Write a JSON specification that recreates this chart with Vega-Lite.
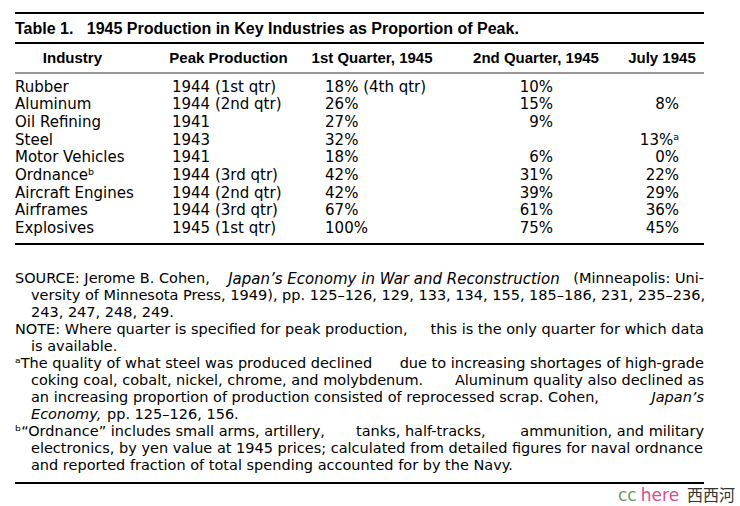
{
  "$schema": "https://vega.github.io/schema/vega-lite/v6.json",
  "background": "white",
  "padding": {"left": 14, "top": 12, "right": 0, "bottom": 0},
  "spacing": 0,
  "bounds": "flush",
  "config": {"view": {"stroke": null}},
  "datasets": {
    "title": [{"text": "Table 1.\u00a0\u00a0 1945 Production in Key Industries as Proportion of Peak."}],
    "columns": [
      {"col": "Industry"},
      {"col": "Peak Production"},
      {"col": "1st Quarter, 1945"},
      {"col": "2nd Quarter, 1945"},
      {"col": "July 1945"}
    ],
    "rows": [
      {"industry": "Rubber", "peak": "1944 (1st qtr)", "q1": "18% (4th qtr)", "q2": "10%", "july": ""},
      {"industry": "Aluminum", "peak": "1944 (2nd qtr)", "q1": "26%", "q2": "15%", "july": "8%"},
      {"industry": "Oil Refining", "peak": "1941", "q1": "27%", "q2": "9%", "july": ""},
      {"industry": "Steel", "peak": "1943", "q1": "32%", "q2": "", "july": "13%ᵃ"},
      {"industry": "Motor Vehicles", "peak": "1941", "q1": "18%", "q2": "6%", "july": "0%"},
      {"industry": "Ordnanceᵇ", "peak": "1944 (3rd qtr)", "q1": "42%", "q2": "31%", "july": "22%"},
      {"industry": "Aircraft Engines", "peak": "1944 (2nd qtr)", "q1": "42%", "q2": "39%", "july": "29%"},
      {"industry": "Airframes", "peak": "1944 (3rd qtr)", "q1": "67%", "q2": "61%", "july": "36%"},
      {"industry": "Explosives", "peak": "1945 (1st qtr)", "q1": "100%", "q2": "75%", "july": "45%"}
    ],
    "notes": [
      {"line": 1, "cont": false, "piece": "head", "book": false, "text": "SOURCE: Jerome B. Cohen,"},
      {"line": 1, "cont": false, "piece": "mid", "book": true, "text": "Japan’s Economy in War and Reconstruction"},
      {"line": 1, "cont": false, "piece": "tail", "book": false, "text": "(Minneapolis: Uni-"},
      {"line": 2, "cont": true, "piece": "head", "book": false, "text": "versity of Minnesota Press, 1949), pp. 125–126, 129, 133, 134, 155, 185–186, 231, 235–236,"},
      {"line": 3, "cont": true, "piece": "head", "book": false, "text": "243, 247, 248, 249."},
      {"line": 4, "cont": false, "piece": "head", "book": false, "text": "NOTE: Where quarter is specified for peak production,"},
      {"line": 4, "cont": false, "piece": "tail", "book": false, "text": "this is the only quarter for which data"},
      {"line": 5, "cont": true, "piece": "head", "book": false, "text": "is available."},
      {"line": 6, "cont": false, "piece": "head", "book": false, "text": "ᵃThe quality of what steel was produced declined"},
      {"line": 6, "cont": false, "piece": "tail", "book": false, "text": "due to increasing shortages of high-grade"},
      {"line": 7, "cont": true, "piece": "head", "book": false, "text": "coking coal, cobalt, nickel, chrome, and molybdenum."},
      {"line": 7, "cont": true, "piece": "tail", "book": false, "text": "Aluminum quality also declined as"},
      {"line": 8, "cont": true, "piece": "head", "book": false, "text": "an increasing proportion of production consisted of reprocessed scrap. Cohen,"},
      {"line": 8, "cont": true, "piece": "tail", "book": true, "text": "Japan’s"},
      {"line": 9, "cont": true, "piece": "head", "book": true, "text": "Economy,"},
      {"line": 9, "cont": true, "piece": "after", "book": false, "text": "pp. 125–126, 156."},
      {"line": 10, "cont": false, "piece": "head", "book": false, "text": "ᵇ“Ordnance” includes small arms, artillery,"},
      {"line": 10, "cont": false, "piece": "mid", "book": false, "text": "tanks, half-tracks,"},
      {"line": 10, "cont": false, "piece": "tail", "book": false, "text": "ammunition, and military"},
      {"line": 11, "cont": true, "piece": "head", "book": false, "text": "electronics, by yen value at 1945 prices; calculated from detailed figures for naval ordnance"},
      {"line": 12, "cont": true, "piece": "head", "book": false, "text": "and reported fraction of total spending accounted for by the Navy."}
    ],
    "mark": [{"piece": "cc"}, {"piece": "here"}, {"piece": "西西河"}]
  },
  "resolve": {"scale": {"x": "independent", "y": "independent"}},
  "vconcat": [
    {
      "width": 689,
      "height": 30,
      "data": {"name": "title"},
      "layer": [
        {
          "mark": {"type": "rule", "color": "#000", "strokeWidth": 2},
          "encoding": {"y": {"datum": "title", "type": "nominal", "bandPosition": 0, "scale": {"type": "band", "domain": ["title"], "paddingInner": 0, "paddingOuter": 0}, "axis": null}}
        },
        {
          "mark": {"type": "rule", "color": "#000", "strokeWidth": 2},
          "encoding": {"y": {"datum": "title", "type": "nominal", "bandPosition": 1, "scale": {"type": "band", "domain": ["title"], "paddingInner": 0, "paddingOuter": 0}, "axis": null}}
        },
        {
          "mark": {"type": "text", "align": "left", "baseline": "middle", "font": "Liberation Sans", "fontWeight": "bold", "fontSize": 16, "color": "#000"},
          "encoding": {
            "x": {"datum": "page", "type": "nominal", "bandPosition": 0, "scale": {"type": "band", "domain": ["page"], "paddingInner": 0, "paddingOuter": 0}, "axis": null},
            "y": {"datum": "title", "type": "nominal", "bandPosition": 0.53, "scale": {"type": "band", "domain": ["title"], "paddingInner": 0, "paddingOuter": 0}, "axis": null},
            "text": {"field": "text"}
          }
        }
      ]
    },
    {
      "width": 689,
      "height": 30,
      "data": {"name": "columns"},
      "encoding": {
        "y": {"datum": "header", "type": "nominal", "scale": {"type": "band", "domain": ["header"], "paddingInner": 0, "paddingOuter": 0}, "axis": null}
      },
      "layer": [
        {
          "transform": [{"filter": "datum.col === 'Industry'"}],
          "mark": {"type": "text", "align": "center", "baseline": "middle", "font": "Liberation Sans", "fontWeight": "bold", "fontSize": 15, "color": "#000"},
          "encoding": {
            "x": {"field": "col", "type": "nominal", "bandPosition": 0.417, "scale": {"type": "band", "domain": ["Industry", "Peak Production", "1st Quarter, 1945", "2nd Quarter, 1945", "July 1945"], "paddingInner": 0, "paddingOuter": 0}, "axis": null},
            "text": {"field": "col"}
          }
        },
        {
          "transform": [{"filter": "datum.col === 'Peak Production'"}],
          "mark": {"type": "text", "align": "center", "baseline": "middle", "font": "Liberation Sans", "fontWeight": "bold", "fontSize": 15, "color": "#000"},
          "encoding": {
            "x": {"field": "col", "type": "nominal", "bandPosition": 0.549, "axis": null},
            "text": {"field": "col"}
          }
        },
        {
          "transform": [{"filter": "datum.col === '1st Quarter, 1945'"}],
          "mark": {"type": "text", "align": "center", "baseline": "middle", "font": "Liberation Sans", "fontWeight": "bold", "fontSize": 15, "color": "#000"},
          "encoding": {
            "x": {"field": "col", "type": "nominal", "bandPosition": 0.591, "axis": null},
            "text": {"field": "col"}
          }
        },
        {
          "transform": [{"filter": "datum.col === '2nd Quarter, 1945'"}],
          "mark": {"type": "text", "align": "center", "baseline": "middle", "font": "Liberation Sans", "fontWeight": "bold", "fontSize": 15, "color": "#000"},
          "encoding": {
            "x": {"field": "col", "type": "nominal", "bandPosition": 0.781, "axis": null},
            "text": {"field": "col"}
          }
        },
        {
          "transform": [{"filter": "datum.col === 'July 1945'"}],
          "mark": {"type": "text", "align": "center", "baseline": "middle", "font": "Liberation Sans", "fontWeight": "bold", "fontSize": 15, "color": "#000"},
          "encoding": {
            "x": {"field": "col", "type": "nominal", "bandPosition": 0.695, "axis": null},
            "text": {"field": "col"}
          }
        },
        {
          "transform": [{"filter": "datum.col === 'Industry'"}],
          "mark": {"type": "rule", "color": "#333", "strokeWidth": 1},
          "encoding": {"y": {"datum": "header", "type": "nominal", "bandPosition": 1, "axis": null}}
        }
      ]
    },
    {
      "width": 689,
      "height": 171,
      "data": {"name": "rows"},
      "encoding": {
        "y": {"field": "industry", "type": "nominal", "sort": null, "scale": {"type": "band", "domain": ["Rubber", "Aluminum", "Oil Refining", "Steel", "Motor Vehicles", "Ordnanceᵇ", "Aircraft Engines", "Airframes", "Explosives"], "paddingInner": 0, "paddingOuter": 0.33, "align": 0.4}, "axis": null}
      },
      "layer": [
        {
          "mark": {"type": "text", "align": "left", "baseline": "middle", "font": "DejaVu Sans", "fontSize": 15, "color": "#000"},
          "encoding": {
            "x": {"datum": "Industry", "type": "nominal", "bandPosition": 0, "scale": {"type": "band", "domain": ["Industry", "Peak Production", "1st Quarter, 1945", "2nd Quarter, 1945", "July 1945"], "paddingInner": 0, "paddingOuter": 0}, "axis": null},
            "text": {"field": "industry"}
          }
        },
        {
          "mark": {"type": "text", "align": "left", "baseline": "middle", "font": "DejaVu Sans", "fontSize": 15, "color": "#000"},
          "encoding": {
            "x": {"datum": "Peak Production", "type": "nominal", "bandPosition": 0.139, "axis": null},
            "text": {"field": "peak"}
          }
        },
        {
          "mark": {"type": "text", "align": "left", "baseline": "middle", "font": "DejaVu Sans", "fontSize": 15, "color": "#000"},
          "encoding": {
            "x": {"datum": "1st Quarter, 1945", "type": "nominal", "bandPosition": 0.25, "axis": null},
            "text": {"field": "q1"}
          }
        },
        {
          "mark": {"type": "text", "align": "right", "baseline": "middle", "font": "DejaVu Sans", "fontSize": 15, "color": "#000"},
          "encoding": {
            "x": {"datum": "2nd Quarter, 1945", "type": "nominal", "bandPosition": 0.904, "axis": null},
            "text": {"field": "q2"}
          }
        },
        {
          "mark": {"type": "text", "align": "right", "baseline": "middle", "font": "DejaVu Sans", "fontSize": 15, "color": "#000"},
          "encoding": {
            "x": {"datum": "July 1945", "type": "nominal", "bandPosition": 0.819, "axis": null},
            "text": {"field": "july"}
          }
        },
        {
          "transform": [{"filter": "datum.industry === 'Explosives'"}],
          "mark": {"type": "rule", "color": "#000", "strokeWidth": 2},
          "encoding": {"y": {"field": "industry", "type": "nominal", "bandPosition": 1.395, "axis": null}}
        }
      ]
    },
    {
      "width": 689,
      "height": 238,
      "data": {"name": "notes"},
      "encoding": {
        "y": {"field": "line", "type": "ordinal", "scale": {"type": "band", "domain": [1, 2, 3, 4, 5, 6, 7, 8, 9, 10, 11, 12], "paddingInner": 0, "paddingOuter": 1.1257, "align": 0.7886}, "axis": null}
      },
      "layer": [
        {
          "transform": [{"filter": "datum.piece === 'head' && !datum.cont && !datum.book"}],
          "mark": {"type": "text", "align": "left", "baseline": "middle", "font": "DejaVu Sans", "fontSize": 14.5, "color": "#000"},
          "encoding": {
            "x": {"datum": "page", "type": "nominal", "bandPosition": 0, "scale": {"type": "band", "domain": ["page"], "paddingInner": 0, "paddingOuter": 0}, "axis": null},
            "text": {"field": "text"}
          }
        },
        {
          "transform": [{"filter": "datum.piece === 'head' && datum.cont && !datum.book"}],
          "mark": {"type": "text", "align": "left", "baseline": "middle", "font": "DejaVu Sans", "fontSize": 14.5, "color": "#000"},
          "encoding": {
            "x": {"datum": "page", "type": "nominal", "bandPosition": 0.0232, "axis": null},
            "text": {"field": "text"}
          }
        },
        {
          "transform": [{"filter": "datum.piece === 'head' && datum.cont && datum.book"}],
          "mark": {"type": "text", "align": "left", "baseline": "middle", "font": "DejaVu Sans", "fontStyle": "italic", "fontSize": 14.5, "color": "#000"},
          "encoding": {
            "x": {"datum": "page", "type": "nominal", "bandPosition": 0.0232, "axis": null},
            "text": {"field": "text"}
          }
        },
        {
          "transform": [{"filter": "datum.piece === 'tail' && !datum.book"}],
          "mark": {"type": "text", "align": "right", "baseline": "middle", "font": "DejaVu Sans", "fontSize": 14.5, "color": "#000"},
          "encoding": {
            "x": {"datum": "page", "type": "nominal", "bandPosition": 1, "axis": null},
            "text": {"field": "text"}
          }
        },
        {
          "transform": [{"filter": "datum.piece === 'tail' && datum.book"}],
          "mark": {"type": "text", "align": "right", "baseline": "middle", "font": "DejaVu Sans", "fontStyle": "italic", "fontSize": 14.5, "color": "#000"},
          "encoding": {
            "x": {"datum": "page", "type": "nominal", "bandPosition": 1, "axis": null},
            "text": {"field": "text"}
          }
        },
        {
          "transform": [{"filter": "datum.piece === 'mid' && datum.book"}],
          "mark": {"type": "text", "align": "center", "baseline": "middle", "font": "DejaVu Sans", "fontStyle": "italic", "fontSize": 15, "color": "#000"},
          "encoding": {
            "x": {"datum": "page", "type": "nominal", "bandPosition": 0.55, "axis": null},
            "text": {"field": "text"}
          }
        },
        {
          "transform": [{"filter": "datum.piece === 'mid' && !datum.book"}],
          "mark": {"type": "text", "align": "center", "baseline": "middle", "font": "DejaVu Sans", "fontSize": 14.5, "color": "#000"},
          "encoding": {
            "x": {"datum": "page", "type": "nominal", "bandPosition": 0.589, "axis": null},
            "text": {"field": "text"}
          }
        },
        {
          "transform": [{"filter": "datum.piece === 'after'"}],
          "mark": {"type": "text", "align": "left", "baseline": "middle", "font": "DejaVu Sans", "fontSize": 14.5, "color": "#000"},
          "encoding": {
            "x": {"datum": "page", "type": "nominal", "bandPosition": 0.1335, "axis": null},
            "text": {"field": "text"}
          }
        },
        {
          "transform": [{"filter": "datum.line === 12"}],
          "mark": {"type": "rule", "color": "#000", "strokeWidth": 2},
          "encoding": {"y": {"field": "line", "type": "ordinal", "bandPosition": 1.476, "axis": null}}
        }
      ]
    },
    {
      "width": 726,
      "height": 25,
      "data": {"name": "mark"},
      "encoding": {
        "y": {"datum": "mark", "type": "nominal", "bandPosition": 0.56, "scale": {"type": "band", "domain": ["mark"], "paddingInner": 0, "paddingOuter": 0}, "axis": null}
      },
      "layer": [
        {
          "transform": [{"filter": "datum.piece === 'cc'"}],
          "mark": {"type": "text", "align": "left", "baseline": "middle", "font": "DejaVu Sans", "fontSize": 17, "color": "#6a9e5c"},
          "encoding": {
            "x": {"datum": "page", "type": "nominal", "bandPosition": 0.8306, "scale": {"type": "band", "domain": ["page"], "paddingInner": 0, "paddingOuter": 0}, "axis": null},
            "text": {"field": "piece"}
          }
        },
        {
          "transform": [{"filter": "datum.piece === 'here'"}],
          "mark": {"type": "text", "align": "left", "baseline": "middle", "font": "DejaVu Sans", "fontSize": 17, "color": "#e2488e"},
          "encoding": {
            "x": {"datum": "page", "type": "nominal", "bandPosition": 0.862, "axis": null},
            "text": {"field": "piece"}
          }
        },
        {
          "transform": [{"filter": "datum.piece === '西西河'"}],
          "mark": {"type": "text", "align": "left", "baseline": "middle", "font": "Noto Sans CJK SC", "fontSize": 16, "color": "#333"},
          "encoding": {
            "x": {"datum": "page", "type": "nominal", "bandPosition": 0.9256, "axis": null},
            "text": {"field": "piece"}
          }
        }
      ]
    }
  ]
}
